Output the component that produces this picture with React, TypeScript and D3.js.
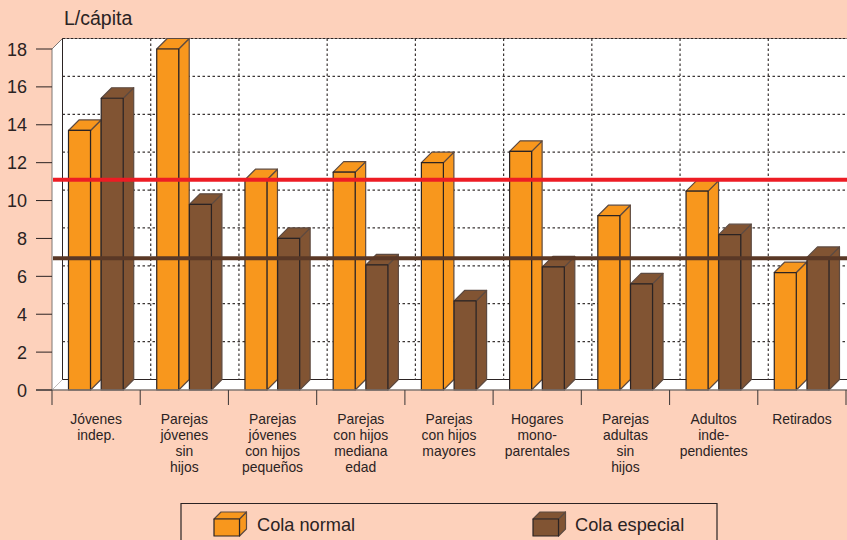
import React from "react";
import * as d3 from "d3";

const categories = [
  ["Jóvenes", "indep."],
  ["Parejas", "jóvenes", "sin", "hijos"],
  ["Parejas", "jóvenes", "con hijos", "pequeños"],
  ["Parejas", "con hijos", "mediana", "edad"],
  ["Parejas", "con hijos", "mayores"],
  ["Hogares", "mono-", "parentales"],
  ["Parejas", "adultas", "sin", "hijos"],
  ["Adultos", "inde-", "pendientes"],
  ["Retirados"],
];
const colaNormal = [13.7, 18, 11.1, 11.5, 12, 12.6, 9.2, 10.5, 6.2];
const colaEspecial = [15.4, 9.8, 8, 6.6, 4.7, 6.5, 5.6, 8.2, 7.0];
const yTicks = [0, 2, 4, 6, 8, 10, 12, 14, 16, 18];
const refNormal = 11.1;
const refEspecial = 6.95;

const W = 847, H = 540;
const FONT = "'Liberation Sans', Arial, sans-serif";
const BG = "#fdd1bb", INK = "#2b2323";
const ORANGE = "#f8971d", BROWN = "#815433";
const D = 10.5;
const barW = 22;

const y = d3.scaleLinear().domain([0, 18]).range([390, 49]);
const x = d3.scaleBand<number>().domain(d3.range(categories.length)).range([52, 846]).paddingInner(0).paddingOuter(0);

function Box({ x0, w, top, bottom, d, fill, sw = 1.2 }: { x0: number; w: number; top: number; bottom: number; d: number; fill: string; sw?: number }) {
  const x1 = x0 + w;
  return (
    <g fill={fill} stroke={INK} strokeWidth={sw} strokeLinejoin="round">
      <path d={`M${x1},${top}L${x1 + d},${top - d}L${x1 + d},${bottom - d}L${x1},${bottom}Z`} stroke="#5d4a40" />
      <path d={`M${x0},${top}L${x0 + d},${top - d}L${x1 + d},${top - d}L${x1},${top}Z`} stroke="#5d4a40" />
      <rect x={x0} y={top} width={w} height={bottom - top} />
    </g>
  );
}

export default function App() {
  const band = x.bandwidth();
  const right = W;
  const bars: { x0: number; v: number; fill: string }[] = [];
  categories.forEach((_, i) => {
    bars.push({ x0: x(i)! + 16.5, v: colaNormal[i], fill: ORANGE });
    bars.push({ x0: x(i)! + 49.2, v: colaEspecial[i], fill: BROWN });
  });
  return (
    <svg width={W} height={H} viewBox={`0 0 ${W} ${H}`} style={{ position: "absolute", left: 0, top: 0, background: BG, fontFamily: FONT }}>
      <rect width={W} height={H} fill={BG} />
      {/* walls */}
      <rect x={52 + D} y={y(18) - D} width={right - 52 - D} height={y(0) - y(18)} fill="#fff" />
      <path d={`M52,${y(18)}L${52 + D},${y(18) - D}L${52 + D},${y(0) - D}L52,${y(0)}Z`} fill="#fff" stroke="#7f7672" strokeWidth={1} />
      <path d={`M52,${y(0)}L${52 + D},${y(0) - D}L${right},${y(0) - D}L${right},${y(0)}Z`} fill="#fff" />
      <line x1={52 + D} x2={right} y1={y(18) - D} y2={y(18) - D} stroke={INK} strokeWidth={1.2} strokeDasharray="3 1" />
      <line x1={52 + D} x2={right} y1={y(0) - D} y2={y(0) - D} stroke={INK} strokeWidth={1.2} />
      <line x1={52 + D} x2={52 + D} y1={y(18) - D} y2={y(0) - D} stroke={INK} strokeWidth={1} />
      {/* grid */}
      {yTicks.filter((t) => t > 0 && t < 18).map((t) => (
        <line key={t} x1={52 + D} x2={right} y1={y(t) - D} y2={y(t) - D} stroke="#3a3433" strokeWidth={1.2} strokeDasharray="2.5 2.5" />
      ))}
      {categories.slice(1).map((_, i) => (
        <line key={i} x1={x(i + 1)! + D} x2={x(i + 1)! + D} y1={y(18) - D} y2={y(0) - D} stroke="#3a3433" strokeWidth={1.2} strokeDasharray="2.5 2.5" />
      ))}
      {/* bars */}
      {bars.map((b, i) => (
        <Box key={i} x0={b.x0} w={barW} top={y(b.v)} bottom={y(0)} d={D} fill={b.fill} />
      ))}
      {/* axes */}
      <line x1={36} x2={right} y1={y(0)} y2={y(0)} stroke="#7f7672" strokeWidth={1.3} />
      {yTicks.map((t) => (
        <g key={t}>
          <line x1={36} x2={52} y1={y(t)} y2={y(t)} stroke={INK} strokeWidth={1} />
          <text x={27} y={y(t) + 6.5} textAnchor="end" fontSize={18} fill={INK}>{t}</text>
        </g>
      ))}
      {d3.range(categories.length + 1).map((i) => {
        const tx = 52 + i * band;
        return <line key={i} x1={tx} x2={tx} y1={y(0)} y2={405} stroke="#4a4240" strokeWidth={1.1} />;
      })}
      {categories.map((lines, i) => (
        <text key={i} textAnchor="middle" fontSize={13.9} fill={INK}>
          {lines.map((l, j) => (
            <tspan key={j} x={x(i)! + band / 2} y={424 + j * 16}>{l}</tspan>
          ))}
        </text>
      ))}
      <text x={64} y={25} fontSize={19.5} fill={INK}>L/cápita</text>
      {/* reference lines */}
      <line x1={53} x2={right} y1={y(refNormal)} y2={y(refNormal)} stroke="#ed1c24" strokeWidth={4} />
      <line x1={53} x2={right} y1={y(refEspecial)} y2={y(refEspecial)} stroke="#5a3826" strokeWidth={4} />
      {/* legend */}
      <path d={`M181,${H}L181,503.5L717,503.5L717,${H}`} fill="none" stroke={INK} strokeWidth={1.2} />
      <Box x0={214} w={25.5} top={519} bottom={536} d={7} fill={ORANGE} />
      <text x={257} y={531} fontSize={18.2} fill={INK}>Cola normal</text>
      <Box x0={533} w={25.5} top={519} bottom={536} d={7} fill={BROWN} />
      <text x={575} y={531} fontSize={18.2} fill={INK}>Cola especial</text>
    </svg>
  );
}
